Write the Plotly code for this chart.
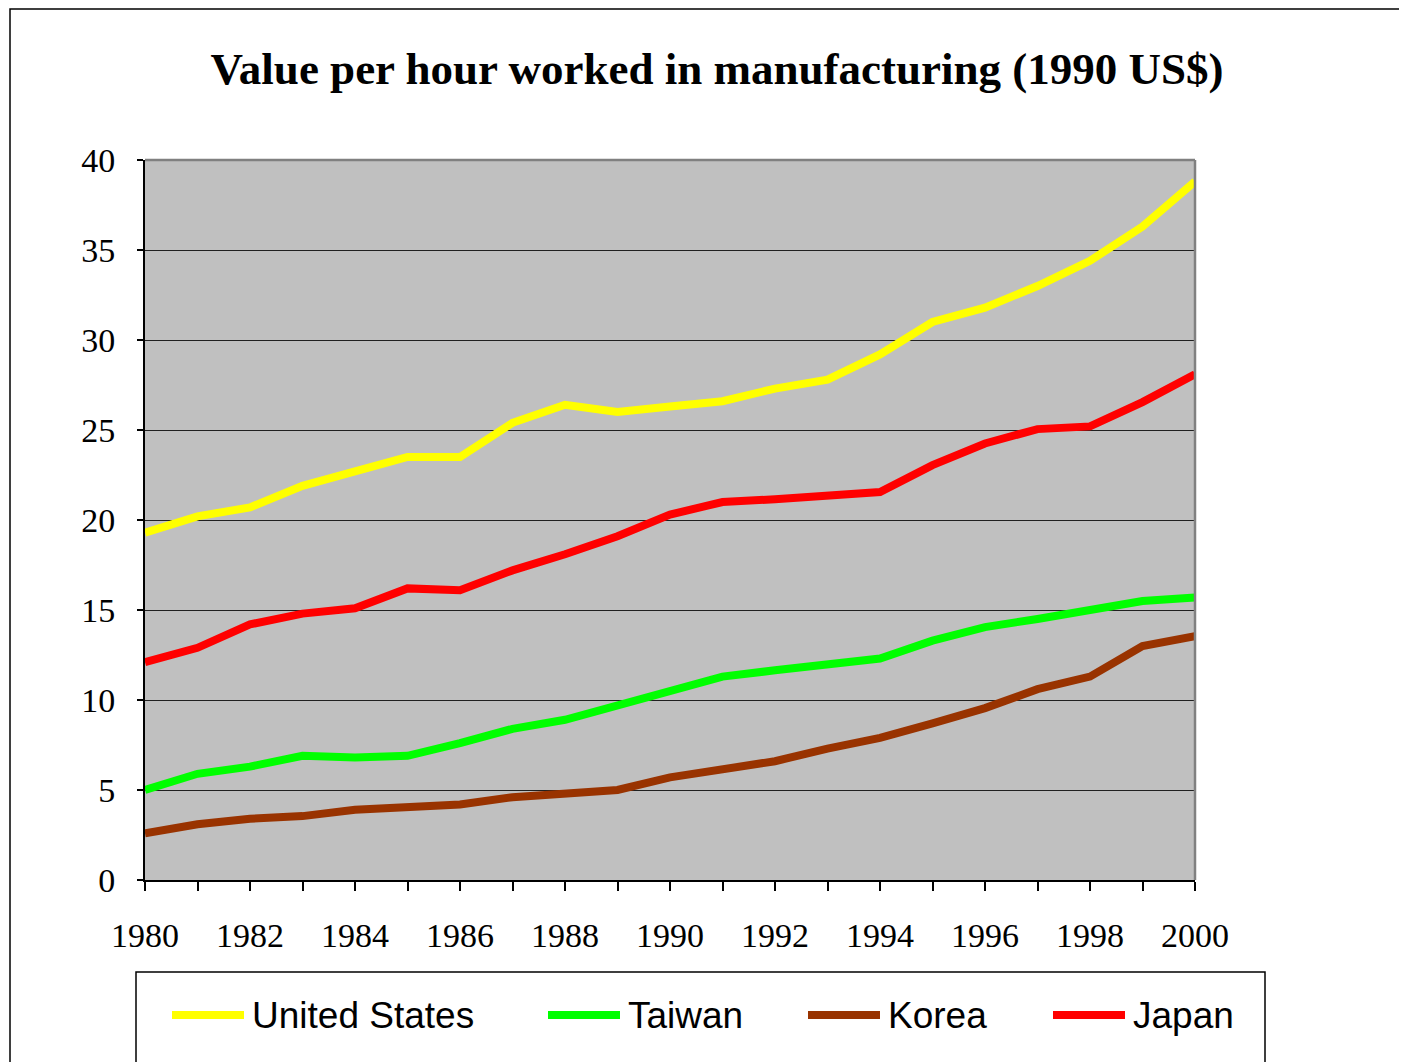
import plotly.graph_objects as go

years = list(range(1980, 2001))
series_names = ["United States", "Taiwan", "Korea", "Japan"]
series_colors = ["#FFFF00", "#00FF00", "#993300", "#FF0000"]

united_states = [19.3, 20.2, 20.7, 21.9, 22.7, 23.5, 23.5, 25.4, 26.4, 26.0, 26.3,
                 26.6, 27.3, 27.8, 29.2, 31.0, 31.8, 33.0, 34.4, 36.3, 38.8]
taiwan = [5.0, 5.9, 6.3, 6.9, 6.8, 6.9, 7.6, 8.4, 8.9, 9.7, 10.4,
          11.3, 11.65, 11.95, 12.3, 13.3, 14.05, 14.5, 15.0, 15.5, 15.7]
korea = [2.6, 3.1, 3.4, 3.55, 3.9, 4.0, 4.2, 4.6, 4.85, 5.0, 5.7,
         6.1, 6.6, 7.3, 7.9, 8.7, 9.55, 10.6, 11.3, 13.0, 13.55]
japan = [12.1, 12.9, 14.2, 14.8, 15.1, 16.2, 16.1, 17.2, 18.1, 19.1, 20.3,
         21.0, 21.15, 21.35, 21.55, 23.05, 24.25, 25.05, 25.2, 26.55, 28.1]

series_values = [united_states, taiwan, korea, japan]
y_ticks = [0, 5, 10, 15, 20, 25, 30, 35, 40]

OFF = 8  # page body margin
W, H = 1407 - OFF, 1062 - OFF
# plot area in screenshot pixels
L, R, T, B = 145, 1195, 160, 880


def px(x):
    return (x - L) / (R - L)


def py(y):
    return (B - y) / (B - T)


fig = go.Figure()
for name, color, vals in zip(series_names, series_colors, series_values):
    fig.add_trace(go.Scatter(x=years, y=vals, mode="lines", name=name,
                             line=dict(color=color, width=8),
                             showlegend=False))

shapes = []
annotations = []

# outer frame
shapes.append(dict(type="rect", xref="paper", yref="paper",
                   x0=px(10), x1=px(1430), y0=py(1090), y1=py(9),
                   line=dict(color="black", width=1.5), layer="below"))
# plot area border (top/right gray)
shapes.append(dict(type="line", xref="paper", yref="paper", x0=0, x1=1, y0=1, y1=1,
                   line=dict(color="#808080", width=2.5)))
shapes.append(dict(type="line", xref="paper", yref="paper", x0=1, x1=1, y0=0, y1=1,
                   line=dict(color="#808080", width=2.5)))
# legend box
shapes.append(dict(type="rect", xref="paper", yref="paper",
                   x0=px(136), x1=px(1265), y0=py(1090), y1=py(972),
                   line=dict(color="black", width=1.5), fillcolor="white"))

legend_line_x = [172, 548, 808, 1053]
for name, color, lx in zip(series_names, series_colors, legend_line_x):
    shapes.append(dict(type="line", xref="paper", yref="paper",
                       x0=px(lx), x1=px(lx + 72), y0=py(1015), y1=py(1015),
                       line=dict(color=color, width=8)))
    annotations.append(dict(xref="paper", yref="paper", x=px(lx + 78), y=py(1015),
                            text=name, showarrow=False, xanchor="left", yanchor="middle",
                            font=dict(family="Liberation Sans, Arial", size=37, color="black")))

fig.update_layout(
    width=W, height=H,
    margin=dict(l=L - OFF, r=W - (R - OFF), t=T - OFF, b=H - (B - OFF), pad=0),
    paper_bgcolor="white",
    plot_bgcolor="#C0C0C0",
    title=dict(text="<b>Value per hour worked in manufacturing (1990 US$)</b>",
               x=px(717), xref="paper", xanchor="center",
               y=1 - (68 - OFF) / H, yref="container", yanchor="middle",
               font=dict(family="Liberation Serif, Times New Roman", size=45, color="black")),
    xaxis=dict(range=[1980, 2000], tickmode="linear", tick0=1980, dtick=2,
               ticks="outside", ticklen=9, tickwidth=1.5, tickcolor="black",
               showgrid=False, zeroline=False,
               showline=True, linecolor="black", linewidth=2,
               ticklabelstandoff=15,
               minor=dict(dtick=1, ticks="outside", ticklen=9, tickwidth=1.5, tickcolor="black"),
               tickfont=dict(family="Liberation Serif, Times New Roman", size=34, color="black")),
    yaxis=dict(range=[0, 40], tickmode="array", tickvals=y_ticks,
               ticks="outside", ticklen=6, tickwidth=1.5, tickcolor="black",
               showgrid=True, gridcolor="#202020", gridwidth=1.2,
               zeroline=False, showline=True, linecolor="black", linewidth=2,
               ticklabelstandoff=15,
               tickfont=dict(family="Liberation Serif, Times New Roman", size=34, color="black")),
    shapes=shapes,
    annotations=annotations,
    showlegend=False,
)

fig.write_html("out.html")
